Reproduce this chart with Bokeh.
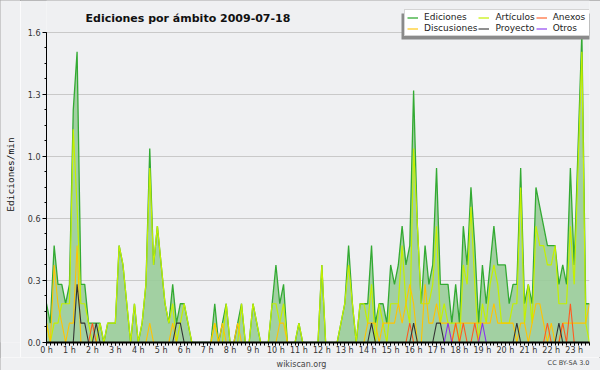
import math
from bokeh.plotting import figure
from bokeh.layouts import column, row
from bokeh.models import FixedTicker, Legend, LegendItem, Label, BoxAnnotation, Range1d
from bokeh.embed import file_html
from bokeh.resources import INLINE

# ---- data: edits per minute, one value per 10-minute slot (00:00 .. 23:40) ----
ediciones = [
    0.2, 0.1, 0.5, 0.3, 0.3, 0.2, 0.3, 1.2, 1.5, 0.3, 0.3, 0.1,
    0.1, 0.1, 0.1, 0.0, 0.1, 0.1, 0.1, 0.5, 0.4, 0.2, 0.0, 0.2,
    0.0, 0.1, 0.3, 1.0, 0.4, 0.6, 0.4, 0.2, 0.1, 0.3, 0.1, 0.2,
    0.2, 0.1, 0.0, 0.0, 0.0, 0.0, 0.0, 0.0, 0.2, 0.0, 0.1, 0.2,
    0.0, 0.0, 0.1, 0.2, 0.0, 0.0, 0.2, 0.1, 0.0, 0.0, 0.0, 0.2,
    0.4, 0.2, 0.3, 0.0, 0.0, 0.0, 0.1, 0.0, 0.0, 0.0, 0.0, 0.0,
    0.4, 0.0, 0.0, 0.0, 0.0, 0.1, 0.2, 0.5, 0.2, 0.0, 0.2, 0.2,
    0.2, 0.5, 0.1, 0.2, 0.2, 0.1, 0.4, 0.3, 0.4, 0.6, 0.4, 0.5,
    1.3, 0.6, 0.2, 0.5, 0.3, 0.4, 0.9, 0.3, 0.3, 0.3, 0.1, 0.3,
    0.1, 0.6, 0.4, 0.8, 0.5, 0.1, 0.4, 0.2, 0.4, 0.6, 0.4, 0.4,
    0.4, 0.2, 0.3, 0.3, 0.9, 0.2, 0.3, 0.2, 0.8, 0.7, 0.6, 0.5,
    0.5, 0.5, 0.3, 0.4, 0.3, 0.9, 0.4, 1.0, 1.6, 0.2, 0.2,
]
articulos = [
    0.1, 0.0, 0.1, 0.1, 0.2, 0.2, 0.2, 1.1, 0.7, 0.2, 0.2, 0.1,
    0.0, 0.0, 0.1, 0.0, 0.1, 0.1, 0.1, 0.5, 0.4, 0.2, 0.0, 0.2,
    0.0, 0.1, 0.3, 0.9, 0.4, 0.6, 0.4, 0.2, 0.1, 0.2, 0.0, 0.1,
    0.2, 0.1, 0.0, 0.0, 0.0, 0.0, 0.0, 0.0, 0.1, 0.0, 0.0, 0.2,
    0.0, 0.0, 0.0, 0.2, 0.0, 0.0, 0.2, 0.1, 0.0, 0.0, 0.0, 0.2,
    0.2, 0.1, 0.2, 0.0, 0.0, 0.0, 0.1, 0.0, 0.0, 0.0, 0.0, 0.0,
    0.4, 0.0, 0.0, 0.0, 0.0, 0.1, 0.2, 0.4, 0.2, 0.0, 0.2, 0.2,
    0.1, 0.3, 0.0, 0.2, 0.1, 0.0, 0.2, 0.2, 0.2, 0.5, 0.2, 0.1,
    1.0, 0.6, 0.2, 0.2, 0.2, 0.3, 0.6, 0.1, 0.2, 0.1, 0.1, 0.1,
    0.0, 0.4, 0.3, 0.7, 0.3, 0.0, 0.2, 0.1, 0.3, 0.4, 0.3, 0.1,
    0.1, 0.1, 0.2, 0.2, 0.8, 0.1, 0.3, 0.1, 0.6, 0.5, 0.5, 0.4,
    0.4, 0.5, 0.2, 0.2, 0.2, 0.6, 0.3, 0.9, 1.5, 0.1, 0.0,
]
discusiones = [
    0.1, 0.0, 0.4, 0.2, 0.1, 0.0, 0.1, 0.1, 0.5, 0.0, 0.0, 0.0,
    0.0, 0.0, 0.0, 0.0, 0.0, 0.0, 0.0, 0.0, 0.0, 0.0, 0.0, 0.0,
    0.0, 0.0, 0.0, 0.1, 0.0, 0.0, 0.0, 0.0, 0.0, 0.1, 0.0, 0.0,
    0.0, 0.0, 0.0, 0.0, 0.0, 0.0, 0.0, 0.0, 0.1, 0.0, 0.1, 0.0,
    0.0, 0.0, 0.1, 0.0, 0.0, 0.0, 0.0, 0.0, 0.0, 0.0, 0.0, 0.0,
    0.0, 0.1, 0.1, 0.0, 0.0, 0.0, 0.0, 0.0, 0.0, 0.0, 0.0, 0.0,
    0.0, 0.0, 0.0, 0.0, 0.0, 0.0, 0.0, 0.0, 0.0, 0.0, 0.0, 0.0,
    0.1, 0.1, 0.1, 0.0, 0.1, 0.1, 0.1, 0.1, 0.2, 0.1, 0.2, 0.3,
    0.2, 0.0, 0.0, 0.3, 0.1, 0.1, 0.2, 0.1, 0.1, 0.1, 0.0, 0.1,
    0.1, 0.1, 0.1, 0.1, 0.1, 0.1, 0.1, 0.1, 0.1, 0.2, 0.1, 0.1,
    0.1, 0.1, 0.1, 0.0, 0.1, 0.1, 0.0, 0.1, 0.2, 0.2, 0.1, 0.0,
    0.1, 0.0, 0.0, 0.1, 0.1, 0.1, 0.1, 0.1, 0.1, 0.1, 0.2,
]
anexos = [
    0.0, 0.0, 0.0, 0.0, 0.0, 0.0, 0.0, 0.0, 0.0, 0.0, 0.0, 0.0,
    0.1, 0.0, 0.0, 0.0, 0.0, 0.0, 0.0, 0.0, 0.0, 0.0, 0.0, 0.0,
    0.0, 0.0, 0.0, 0.0, 0.0, 0.0, 0.0, 0.0, 0.0, 0.0, 0.0, 0.0,
    0.0, 0.0, 0.0, 0.0, 0.0, 0.0, 0.0, 0.0, 0.0, 0.0, 0.0, 0.0,
    0.0, 0.0, 0.0, 0.0, 0.0, 0.0, 0.0, 0.0, 0.0, 0.0, 0.0, 0.0,
    0.0, 0.0, 0.0, 0.0, 0.0, 0.0, 0.0, 0.0, 0.0, 0.0, 0.0, 0.0,
    0.0, 0.0, 0.0, 0.0, 0.0, 0.0, 0.0, 0.0, 0.0, 0.0, 0.0, 0.0,
    0.0, 0.0, 0.0, 0.0, 0.0, 0.0, 0.0, 0.0, 0.0, 0.0, 0.0, 0.1,
    0.0, 0.0, 0.0, 0.0, 0.0, 0.0, 0.0, 0.0, 0.0, 0.0, 0.0, 0.1,
    0.0, 0.1, 0.0, 0.0, 0.1, 0.0, 0.0, 0.0, 0.0, 0.0, 0.0, 0.0,
    0.0, 0.0, 0.0, 0.0, 0.0, 0.0, 0.0, 0.0, 0.0, 0.0, 0.0, 0.1,
    0.0, 0.0, 0.0, 0.1, 0.0, 0.2, 0.0, 0.0, 0.0, 0.0, 0.0,
]
proyecto = [
    0.0, 0.0, 0.0, 0.0, 0.0, 0.0, 0.0, 0.0, 0.3, 0.1, 0.1, 0.0,
    0.0, 0.1, 0.0, 0.0, 0.0, 0.0, 0.0, 0.0, 0.0, 0.0, 0.0, 0.0,
    0.0, 0.0, 0.0, 0.0, 0.0, 0.0, 0.0, 0.0, 0.0, 0.0, 0.1, 0.1,
    0.0, 0.0, 0.0, 0.0, 0.0, 0.0, 0.0, 0.0, 0.0, 0.0, 0.0, 0.0,
    0.0, 0.0, 0.0, 0.0, 0.0, 0.0, 0.0, 0.0, 0.0, 0.0, 0.0, 0.0,
    0.0, 0.0, 0.0, 0.0, 0.0, 0.0, 0.0, 0.0, 0.0, 0.0, 0.0, 0.0,
    0.0, 0.0, 0.0, 0.0, 0.0, 0.0, 0.0, 0.0, 0.0, 0.0, 0.0, 0.0,
    0.0, 0.1, 0.0, 0.0, 0.0, 0.0, 0.0, 0.0, 0.0, 0.0, 0.0, 0.0,
    0.1, 0.0, 0.0, 0.0, 0.0, 0.0, 0.1, 0.1, 0.0, 0.0, 0.0, 0.0,
    0.0, 0.0, 0.0, 0.0, 0.0, 0.0, 0.0, 0.0, 0.0, 0.0, 0.0, 0.0,
    0.0, 0.0, 0.0, 0.1, 0.0, 0.0, 0.0, 0.0, 0.0, 0.0, 0.0, 0.0,
    0.0, 0.0, 0.1, 0.0, 0.0, 0.0, 0.0, 0.0, 0.0, 0.0, 0.0,
]
otros = [
    0.0, 0.0, 0.0, 0.0, 0.0, 0.0, 0.0, 0.0, 0.0, 0.0, 0.0, 0.0,
    0.0, 0.0, 0.0, 0.0, 0.0, 0.0, 0.0, 0.0, 0.0, 0.0, 0.0, 0.0,
    0.0, 0.0, 0.0, 0.0, 0.0, 0.0, 0.0, 0.0, 0.0, 0.0, 0.0, 0.0,
    0.0, 0.0, 0.0, 0.0, 0.0, 0.0, 0.0, 0.0, 0.0, 0.0, 0.0, 0.0,
    0.0, 0.0, 0.0, 0.0, 0.0, 0.0, 0.0, 0.0, 0.0, 0.0, 0.0, 0.0,
    0.0, 0.0, 0.0, 0.0, 0.0, 0.0, 0.0, 0.0, 0.0, 0.0, 0.0, 0.0,
    0.0, 0.0, 0.0, 0.0, 0.0, 0.0, 0.0, 0.0, 0.0, 0.0, 0.0, 0.0,
    0.0, 0.0, 0.0, 0.0, 0.0, 0.0, 0.0, 0.0, 0.0, 0.0, 0.0, 0.0,
    0.0, 0.0, 0.0, 0.0, 0.0, 0.0, 0.0, 0.0, 0.0, 0.1, 0.0, 0.0,
    0.0, 0.0, 0.0, 0.0, 0.0, 0.0, 0.1, 0.0, 0.0, 0.0, 0.0, 0.0,
    0.0, 0.0, 0.0, 0.0, 0.0, 0.0, 0.0, 0.0, 0.0, 0.0, 0.0, 0.0,
    0.0, 0.0, 0.0, 0.0, 0.0, 0.0, 0.0, 0.0, 0.0, 0.0, 0.0,
]
hour_labels = [f"{h} h" for h in range(24)]
y_ticks = [0.0, 0.32, 0.64, 0.96, 1.28, 1.6]
y_tick_labels = ["0.0", "0.3", "0.6", "1.0", "1.3", "1.6"]
title_text = "Ediciones por ámbito  2009-07-18"
y_title = "Ediciones/min"

minutes = [10 * i for i in range(len(ediciones))]

BG = "#eff0f2"
FONT = "DejaVu Sans"

# layout (page pixels): y-title strip 0-20 | main 20-600 ; footer strip 357-370
MAIN_H = 357
FRAME_BOTTOM = 344      # frame spans page y 0..344; 1.6 sits at y=32
p = figure(width=580, height=MAIN_H, output_backend="svg", toolbar_location=None, title=None,
           x_range=Range1d(0, minutes[-1]),
           y_range=Range1d(0, 1.6 * FRAME_BOTTOM / (FRAME_BOTTOM - 32)),
           min_border_left=26, min_border_right=11, min_border_top=0,
           min_border_bottom=MAIN_H - FRAME_BOTTOM,
           background_fill_color=BG, border_fill_color=BG, outline_line_color=None)

p.xgrid.visible = False
p.ygrid.ticker = FixedTicker(ticks=y_ticks)
p.ygrid.grid_line_color = "#c9c9c9"

p.xaxis.ticker = FixedTicker(ticks=[60 * h for h in range(24)],
                             minor_ticks=list(range(0, minutes[-1] + 1, 10)))
p.xaxis.major_label_overrides = {60 * h: lab for h, lab in enumerate(hour_labels)}
p.xaxis.axis_line_width = 2
p.xaxis.axis_line_color = "black"
p.xaxis.major_tick_in = 0
p.xaxis.major_tick_out = 3
p.xaxis.minor_tick_in = 0
p.xaxis.minor_tick_out = 3
p.xaxis.major_tick_line_color = "black"
p.xaxis.minor_tick_line_color = "black"
p.xaxis.major_label_standoff = 0
p.xaxis.major_label_text_font = FONT
p.xaxis.major_label_text_font_size = "8px"
p.xaxis.major_label_text_color = "#333333"

p.yaxis.bounds = (0, 1.6)
p.yaxis.ticker = FixedTicker(ticks=y_ticks, minor_ticks=[0.08 * k for k in range(21)])
p.yaxis.major_label_overrides = {t: lab for t, lab in zip(y_ticks, y_tick_labels)}
p.yaxis.axis_line_color = "black"
p.yaxis.major_tick_in = 0
p.yaxis.major_tick_out = 4
p.yaxis.minor_tick_in = 0
p.yaxis.minor_tick_out = 2
p.yaxis.major_tick_line_color = "black"
p.yaxis.minor_tick_line_color = "black"
p.yaxis.major_label_standoff = 2
p.yaxis.major_label_text_font = FONT
p.yaxis.major_label_text_font_size = "8px"
p.yaxis.major_label_text_color = "#333333"

p.varea(x=minutes, y1=0, y2=ediciones, fill_color="#99cc99", fill_alpha=0.9)
r_ed = p.line(minutes, ediciones, line_color="#33aa33", line_width=1.3)
r_art = p.line(minutes, articulos, line_color="#c4f000", line_width=1.2)
r_dis = p.line(minutes, discusiones, line_color="#ffc400", line_width=1.1)
r_anx = p.line(minutes, anexos, line_color="#ff5a1f", line_width=1.1)
r_pro = p.line(minutes, proyecto, line_color="#333333", line_width=1.1)
r_otr = p.line(minutes, otros, line_color="#8833ee", line_width=1.1)

# legend (screen units from the frame's bottom-left corner)
LEG_X, LEG_Y = 358, FRAME_BOTTOM - 38
shadow = BoxAnnotation(left=LEG_X - 3, right=LEG_X + 186, top=LEG_Y + 23, bottom=LEG_Y - 3,
                       left_units="screen", right_units="screen",
                       top_units="screen", bottom_units="screen",
                       fill_color="#8a8a8a", fill_alpha=1, line_color=None)
p.add_layout(shadow)

legend = Legend(items=[
    LegendItem(label="Ediciones", renderers=[r_ed]),
    LegendItem(label="Discusiones", renderers=[r_dis]),
    LegendItem(label="Artículos", renderers=[r_art]),
    LegendItem(label="Proyecto", renderers=[r_pro]),
    LegendItem(label="Anexos", renderers=[r_anx]),
    LegendItem(label="Otros", renderers=[r_otr]),
], location=(LEG_X, LEG_Y), orientation="vertical", nrows=2)
legend.background_fill_color = "white"
legend.background_fill_alpha = 1
legend.border_line_color = "#aaaaaa"
legend.border_line_width = 1
legend.label_text_font = FONT
legend.label_text_font_size = "9px"
legend.label_text_color = "#222222"
legend.glyph_width = 11
legend.glyph_height = 9
legend.label_height = 9
legend.label_width = 36
legend.label_standoff = 6
legend.spacing = 1
legend.padding = 2
legend.margin = 0
p.add_layout(legend)

p.add_layout(Label(x=39, y=FRAME_BOTTOM - 19.5, x_units="screen", y_units="screen",
                   text=title_text, text_font=FONT, text_font_size="11px",
                   text_font_style="bold", text_color="#111111", text_baseline="alphabetic"))

# narrow strip on the left for the y-axis title
ylab = figure(width=20, height=MAIN_H, output_backend="svg", toolbar_location=None, title=None,
              x_range=Range1d(0, 20), y_range=Range1d(0, MAIN_H),
              x_axis_type=None, y_axis_type=None, min_border=0,
              background_fill_color=BG, border_fill_color=BG, outline_line_color=None)
ylab.grid.visible = False
ylab.add_layout(Label(x=10, y=MAIN_H - 189, x_units="screen", y_units="screen", text=y_title,
                      angle=math.pi / 2, text_align="center", text_baseline="middle",
                      text_font="DejaVu Sans Mono", text_font_size="9.5px",
                      text_color="#111111"))

# strip at the bottom for the credits
FOOT_H = 370 - MAIN_H
foot = figure(width=600, height=FOOT_H, output_backend="svg", toolbar_location=None, title=None,
              x_range=Range1d(0, 600), y_range=Range1d(0, FOOT_H),
              x_axis_type=None, y_axis_type=None, min_border=0,
              background_fill_color=BG, border_fill_color=BG, outline_line_color=None)
foot.grid.visible = False
foot.add_layout(Label(x=301, y=370 - 363.5, x_units="screen", y_units="screen",
                      text="wikiscan.org", text_align="center", text_baseline="alphabetic",
                      text_font=FONT, text_font_size="8px", text_color="#444444"))
foot.add_layout(Label(x=589, y=370 - 362, x_units="screen", y_units="screen",
                      text="CC BY-SA 3.0", text_align="right", text_baseline="alphabetic",
                      text_font=FONT, text_font_size="6.5px", text_color="#444444"))

page = column(row(ylab, p), foot,
              styles={"outline": "1px solid #a6a6a6", "outline-offset": "-1px"})
open("out.html", "w").write(file_html(page, INLINE))
